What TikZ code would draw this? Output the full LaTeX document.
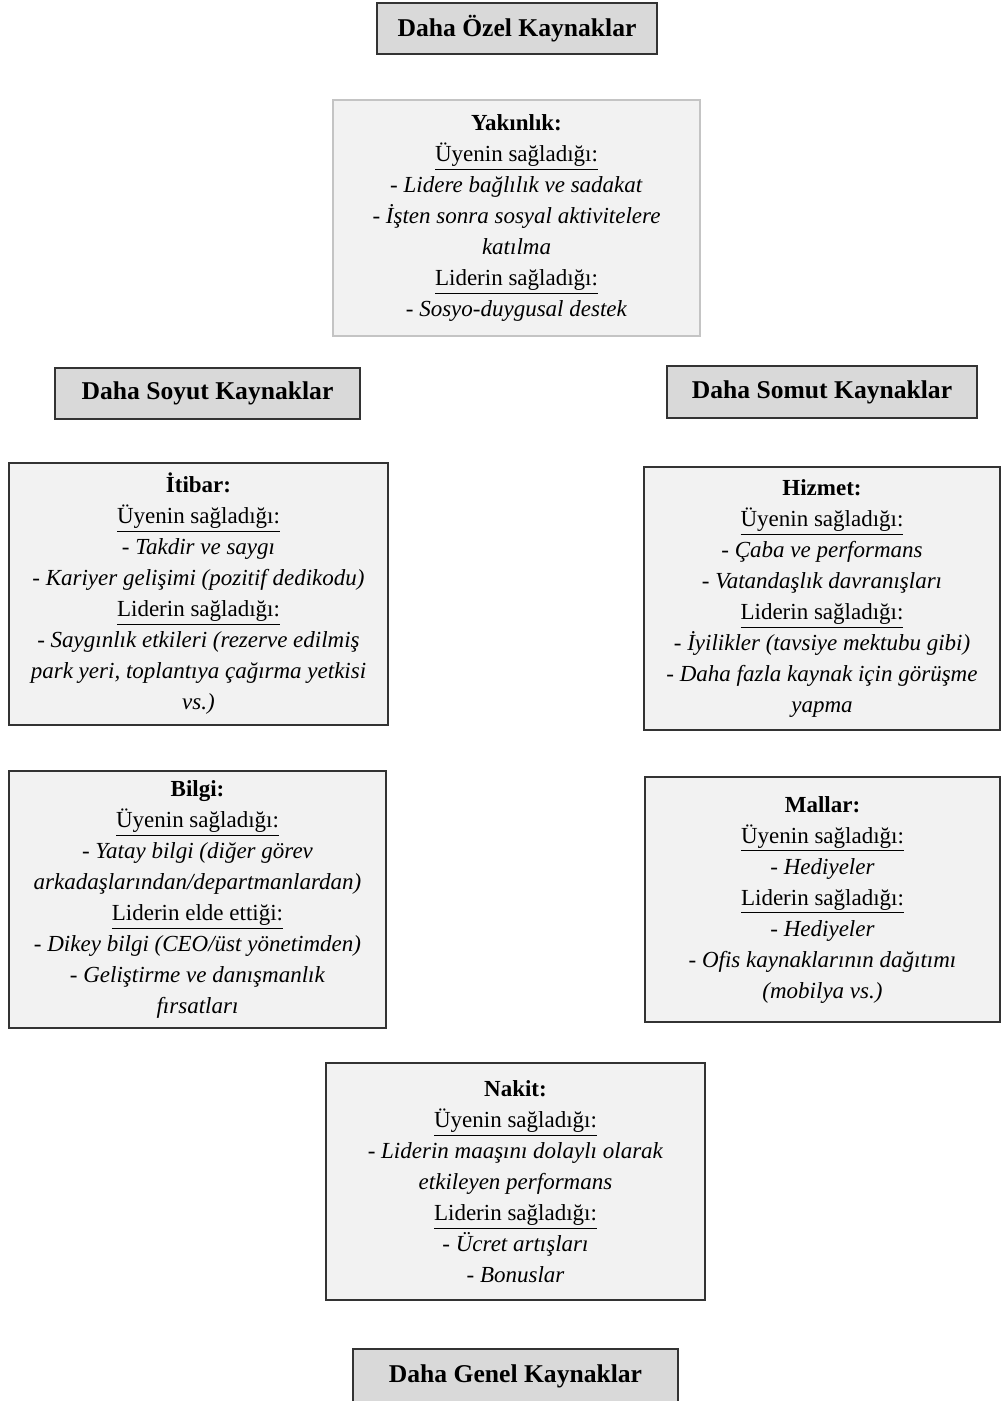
\documentclass[tikz,border=0pt]{standalone}
\usepackage{fontspec}
\setmainfont{Liberation Serif}
\definecolor{hdrfill}{HTML}{D9D9D9}
\definecolor{boxfill}{HTML}{F2F2F2}
\definecolor{edge}{HTML}{333333}
\definecolor{softedge}{HTML}{C4C4C4}
\tikzset{
  x=0.5pt, y=-0.5pt,
  hdr/.style={draw=edge, line width=1pt, fill=hdrfill, inner sep=0pt,
    font=\fontsize{12.8}{15}\selectfont\bfseries},
  res/.style={draw=edge, line width=0.8pt, fill=boxfill, inner sep=0pt,
    align=center, font=\fontsize{11.5}{15.5}\selectfont},
  softres/.style={res, draw=softedge, line width=0.7pt}
}
\newcommand{\ttl}[1]{\textbf{#1}}
\newcommand{\sub}[1]{\underline{#1}}
\newcommand{\itm}[1]{\textit{#1}}
\begin{document}
\begin{tikzpicture}
\useasboundingbox[fill=white] (0,0) rectangle (1001,1401);

% category headers
\node[hdr, minimum width=140pt, minimum height=25.5pt] (ozel) at (517,28.5) {Daha Özel Kaynaklar};
\node[hdr, minimum width=152.5pt, minimum height=25.5pt] (soyut) at (207.5,393.5) {Daha Soyut Kaynaklar};
\node[hdr, minimum width=155pt, minimum height=26pt] (somut) at (822,392) {Daha Somut Kaynaklar};
\node[hdr, minimum width=162.5pt, minimum height=27.5pt] (genel) at (515.5,1376.5) {Daha Genel Kaynaklar};

% resource boxes
\node[softres, minimum width=183.5pt, minimum height=118pt] (yakin) at (516.5,218) {%
  \ttl{Yakınlık:}\\
  \sub{Üyenin sağladığı:}\\
  \itm{- Lidere bağlılık ve sadakat}\\
  \itm{- İşten sonra sosyal aktivitelere}\\
  \itm{katılma}\\
  \sub{Liderin sağladığı:}\\
  \itm{- Sosyo-duygusal destek}};

\node[res, minimum width=189.5pt, minimum height=131pt] (itibar) at (198.5,594) {%
  \ttl{İtibar:}\\
  \sub{Üyenin sağladığı:}\\
  \itm{- Takdir ve saygı}\\
  \itm{- Kariyer gelişimi (pozitif dedikodu)}\\
  \sub{Liderin sağladığı:}\\
  \itm{- Saygınlık etkileri (rezerve edilmiş}\\
  \itm{park yeri, toplantıya çağırma yetkisi}\\
  \itm{vs.)}};

\node[res, minimum width=178pt, minimum height=131.5pt] (hizmet) at (822,598.5) {%
  \ttl{Hizmet:}\\
  \sub{Üyenin sağladığı:}\\
  \itm{- Çaba ve performans}\\
  \itm{- Vatandaşlık davranışları}\\
  \sub{Liderin sağladığı:}\\
  \itm{- İyilikler (tavsiye mektubu gibi)}\\
  \itm{- Daha fazla kaynak için görüşme}\\
  \itm{yapma}};

\node[res, minimum width=188.5pt, minimum height=128.5pt] (bilgi) at (197.5,899.5) {%
  \ttl{Bilgi:}\\
  \sub{Üyenin sağladığı:}\\
  \itm{- Yatay bilgi (diğer görev}\\
  \itm{arkadaşlarından/departmanlardan)}\\
  \sub{Liderin elde ettiği:}\\
  \itm{- Dikey bilgi (CEO/üst yönetimden)}\\
  \itm{- Geliştirme ve danışmanlık}\\
  \itm{fırsatları}};

\node[res, minimum width=177.5pt, minimum height=122.5pt] (mallar) at (822.5,899.5) {%
  \ttl{Mallar:}\\
  \sub{Üyenin sağladığı:}\\
  \itm{- Hediyeler}\\
  \sub{Liderin sağladığı:}\\
  \itm{- Hediyeler}\\
  \itm{- Ofis kaynaklarının dağıtımı}\\
  \itm{(mobilya vs.)}};

\node[res, minimum width=189.5pt, minimum height=118.5pt] (nakit) at (515.5,1181.5) {%
  \ttl{Nakit:}\\
  \sub{Üyenin sağladığı:}\\
  \itm{- Liderin maaşını dolaylı olarak}\\
  \itm{etkileyen performans}\\
  \sub{Liderin sağladığı:}\\
  \itm{- Ücret artışları}\\
  \itm{- Bonuslar}};
\end{tikzpicture}
\end{document}
